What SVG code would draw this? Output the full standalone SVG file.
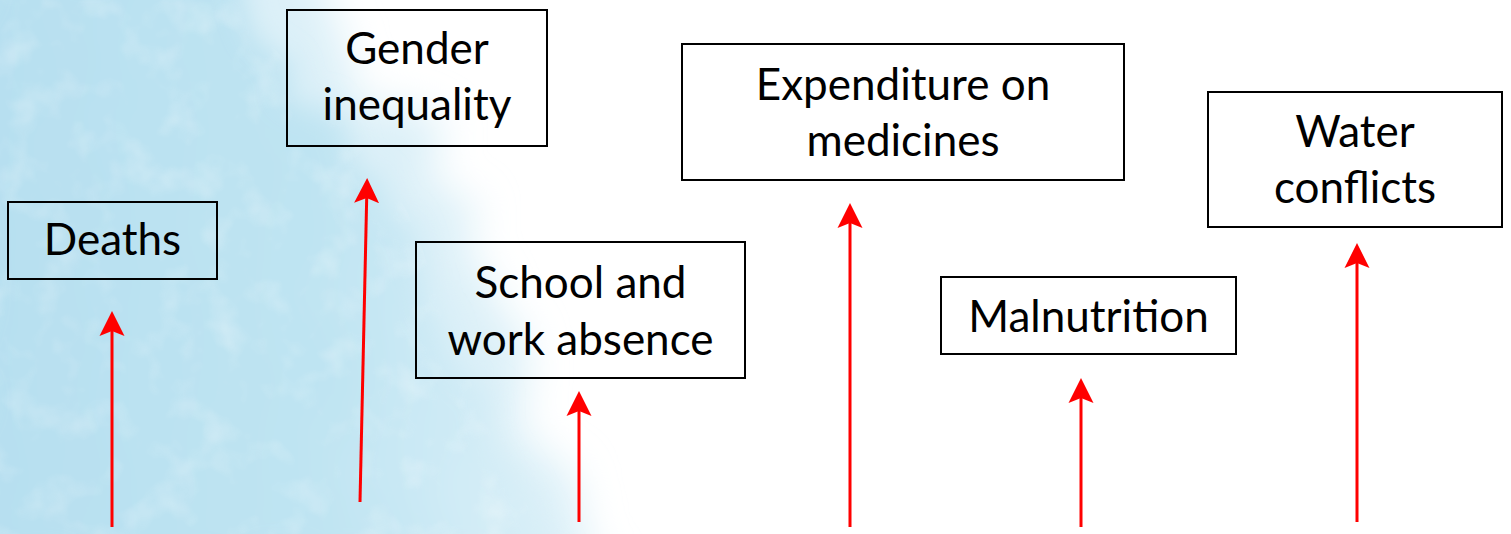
<svg xmlns="http://www.w3.org/2000/svg" width="1511" height="534" viewBox="0 0 1511 534">
<style>
.box{fill:none;stroke:#000;stroke-width:2}
.lbl{font-family:Lato,"Liberation Sans",sans-serif;font-size:44px;fill:#000;text-anchor:middle}
.arr{stroke:#ff0000;stroke-width:3;fill:none;marker-end:url(#ah)}
</style>
<defs>
<marker id="ah" markerUnits="userSpaceOnUse" markerWidth="26" markerHeight="26" viewBox="0 0 26 26" refX="19" refY="13" orient="auto">
<path d="M25,13 L0,0.5 L5,13 L0,25.5 Z" fill="#ff0000"/>
</marker>
<filter id="wash" x="-20%" y="-20%" width="140%" height="140%">
<feTurbulence type="fractalNoise" baseFrequency="0.012" numOctaves="4" seed="7" result="n"/>
<feDisplacementMap in="SourceGraphic" in2="n" scale="80" xChannelSelector="R" yChannelSelector="G" result="d"/>
<feGaussianBlur in="d" stdDeviation="14"/>
</filter>
<filter id="wash2" x="-20%" y="-20%" width="140%" height="140%">
<feTurbulence type="fractalNoise" baseFrequency="0.01" numOctaves="4" seed="11" result="n"/>
<feDisplacementMap in="SourceGraphic" in2="n" scale="90" xChannelSelector="R" yChannelSelector="G" result="d"/>
<feGaussianBlur in="d" stdDeviation="20"/>
</filter>
<filter id="tex" x="0" y="0" width="100%" height="100%">
<feTurbulence type="fractalNoise" baseFrequency="0.025" numOctaves="3" seed="3"/>
<feColorMatrix type="matrix" values="0 0 0 0 1  0 0 0 0 1  0 0 0 0 1  0 0 0 1.4 -0.7"/>
<feComposite in2="SourceGraphic" operator="in"/>
</filter>
<linearGradient id="fade" x1="0" y1="0" x2="1" y2="0">
<stop offset="0" stop-color="#b6dff0"/>
<stop offset="0.6" stop-color="#bfe4f2"/>
<stop offset="1" stop-color="#dbf0f8"/>
</linearGradient>
</defs>
<rect width="1511" height="534" fill="#ffffff"/>
<g id="background">
<path filter="url(#wash2)" fill="#dcf0f8" d="M-40,-40 L300,-40 C330,40 400,100 450,180 C490,250 490,320 520,380 C550,440 570,480 610,574 L-40,574 Z"/>
<path filter="url(#wash)" fill="url(#fade)" d="M-40,-40 L220,-40 C250,40 320,90 380,170 C430,230 430,300 460,360 C490,420 510,470 560,574 L-40,574 Z"/>
<path filter="url(#tex)" fill="#fff" opacity="0.45" d="M-40,-40 L220,-40 C250,40 320,90 380,170 C430,230 430,300 460,360 C490,420 510,470 560,574 L-40,574 Z"/>
</g>
<g id="connectors">
<line class="arr" x1="112" y1="527" x2="112" y2="317"/>
<line class="arr" x1="360" y1="502" x2="367" y2="184"/>
<line class="arr" x1="579" y1="522" x2="579" y2="397"/>
<line class="arr" x1="850" y1="527" x2="850" y2="209"/>
<line class="arr" x1="1081" y1="527" x2="1081" y2="384"/>
<line class="arr" x1="1357" y1="522" x2="1357" y2="249"/>
</g>
<g id="deaths">
<rect class="box" x="8" y="202" width="209" height="77"/>
<text class="lbl" x="112.5" y="255">Deaths</text>
</g>
<g id="gender">
<rect class="box" x="287" y="10" width="260" height="136"/>
<text class="lbl" x="417" y="64">Gender</text>
<text class="lbl" x="417" y="120">inequality</text>
</g>
<g id="school">
<rect class="box" x="416" y="242" width="329" height="136"/>
<text class="lbl" x="580.5" y="298">School and</text>
<text class="lbl" x="580.5" y="355">work absence</text>
</g>
<g id="expenditure">
<rect class="box" x="682" y="44" width="442" height="136"/>
<text class="lbl" x="903" y="100">Expenditure on</text>
<text class="lbl" x="903" y="156">medicines</text>
</g>
<g id="malnutrition">
<rect class="box" x="941" y="277" width="295" height="77"/>
<text class="lbl" x="1088.5" y="332">Malnutrition</text>
</g>
<g id="water">
<rect class="box" x="1208" y="92" width="294" height="135"/>
<text class="lbl" x="1355" y="147">Water</text>
<text class="lbl" x="1355" y="203">conflicts</text>
</g>
</svg>
